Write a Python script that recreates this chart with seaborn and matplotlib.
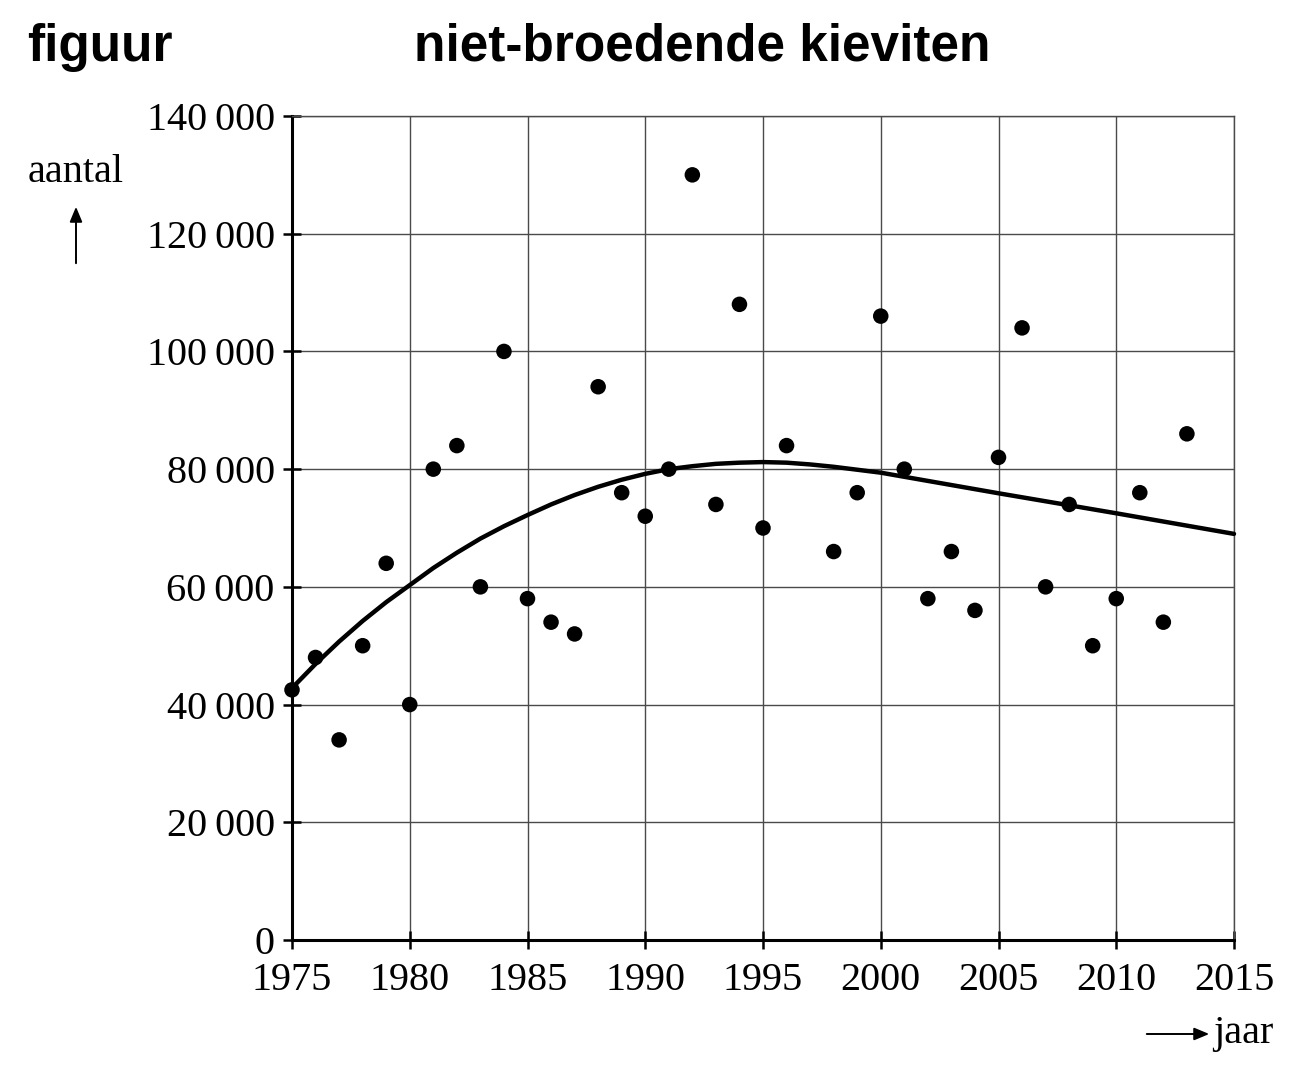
import numpy as np
import pandas as pd
import matplotlib.pyplot as plt
import seaborn as sns
from matplotlib.ticker import FuncFormatter
from matplotlib.patches import FancyArrowPatch

sns.set_style("white")

# data
jaren = [1975, 1976, 1977, 1978, 1979, 1980, 1981, 1982, 1983, 1984,
         1985, 1986, 1987, 1988, 1989, 1990, 1991, 1992, 1993, 1994,
         1995, 1996, 1998, 1999, 2000, 2001, 2002, 2003, 2004, 2005,
         2006, 2007, 2008, 2009, 2010, 2011, 2012, 2013]
aantal = [42500, 48000, 34000, 50000, 64000, 40000, 80000, 84000, 60000, 100000,
          58000, 54000, 52000, 94000, 76000, 72000, 80000, 130000, 74000, 108000,
          70000, 84000, 66000, 76000, 106000, 80000, 58000, 66000, 56000, 82000,
          104000, 60000, 74000, 50000, 58000, 76000, 54000, 86000]

trend_jaren = [1975, 1976, 1977, 1978, 1979, 1980, 1981, 1982, 1983, 1984,
               1985, 1986, 1987, 1988, 1989, 1990, 1991, 1992, 1993, 1994,
               1995, 1996, 1997, 1998, 1999, 2000, 2005, 2010, 2015]
trend = [42800, 46900, 50700, 54200, 57400, 60300, 63200, 65800, 68200, 70300,
         72200, 74000, 75600, 77000, 78200, 79200, 80000, 80500, 80900, 81100,
         81200, 81100, 80800, 80400, 79900, 79400, 75900, 72500, 69000]

xticks = list(range(1975, 2016, 5))
yticks = list(range(0, 140001, 20000))

punten = pd.DataFrame({"jaar": jaren, "aantal": aantal})
lijn = pd.DataFrame({"jaar": trend_jaren, "aantal": trend})

fig = plt.figure(figsize=(13.02, 10.72), dpi=100)
ax = fig.add_axes([292 / 1302, 1 - 940 / 1072, (1234 - 292) / 1302, (940 - 116) / 1072])

ax.grid(True, color="#4a4a4a", lw=1.0)
ax.set_axisbelow(True)

sns.lineplot(data=lijn, x="jaar", y="aantal", color="black", lw=3.2, ax=ax,
             zorder=3, clip_on=False)
sns.scatterplot(data=punten, x="jaar", y="aantal", color="black", s=125,
                edgecolor="none", ax=ax, zorder=4, clip_on=False)

ax.set_xlim(1975, 2015)
ax.set_ylim(0, 140000)
ax.set_xticks(xticks)
ax.set_yticks(yticks)
ax.yaxis.set_major_formatter(FuncFormatter(lambda v, p: f"{int(v):,}".replace(",", "\u2009")))

for s in ["left", "bottom"]:
    ax.spines[s].set_color("black")
    ax.spines[s].set_linewidth(2.2)
for s in ["top", "right"]:
    ax.spines[s].set_color("#4a4a4a")
    ax.spines[s].set_linewidth(1.0)

ax.tick_params(bottom=True, left=True, direction="inout", length=13, width=1.8,
               color="black", labelsize=29, labelcolor="black")
ax.tick_params(axis="y", pad=6)
ax.tick_params(axis="x", pad=9)
for lab in ax.get_xticklabels() + ax.get_yticklabels():
    lab.set_family("Liberation Serif")

ax.set_xlabel("")
ax.set_ylabel("")

fig.text(27 / 1302, 1 - 47 / 1072, "figuur", family="Liberation Sans",
         fontweight="bold", fontsize=37, va="center", ha="left", color="black")
fig.text(702 / 1302, 1 - 47 / 1072, "niet-broedende kieviten", family="Liberation Sans",
         fontweight="bold", fontsize=37, va="center", ha="center", color="black")

fig.text(76 / 1302, 1 - 173 / 1072, "aantal", family="Liberation Serif",
         fontsize=29, va="center", ha="center", color="black")
fig.text(1243 / 1302, 1 - 1033 / 1072, "jaar", family="Liberation Serif",
         fontsize=29, va="center", ha="center", color="black")

fig.patches.append(FancyArrowPatch(
    (76 / 1302, 1 - 266 / 1072), (76 / 1302, 1 - 204 / 1072),
    transform=fig.transFigure, arrowstyle="-|>,head_length=6,head_width=2.5",
    color="black", lw=1.4, mutation_scale=1.5))
fig.patches.append(FancyArrowPatch(
    (1144 / 1302, 1 - 1034 / 1072), (1212 / 1302, 1 - 1034 / 1072),
    transform=fig.transFigure, arrowstyle="-|>,head_length=6,head_width=2.5",
    color="black", lw=1.4, mutation_scale=1.5))

fig.savefig("out.png", dpi=100)
